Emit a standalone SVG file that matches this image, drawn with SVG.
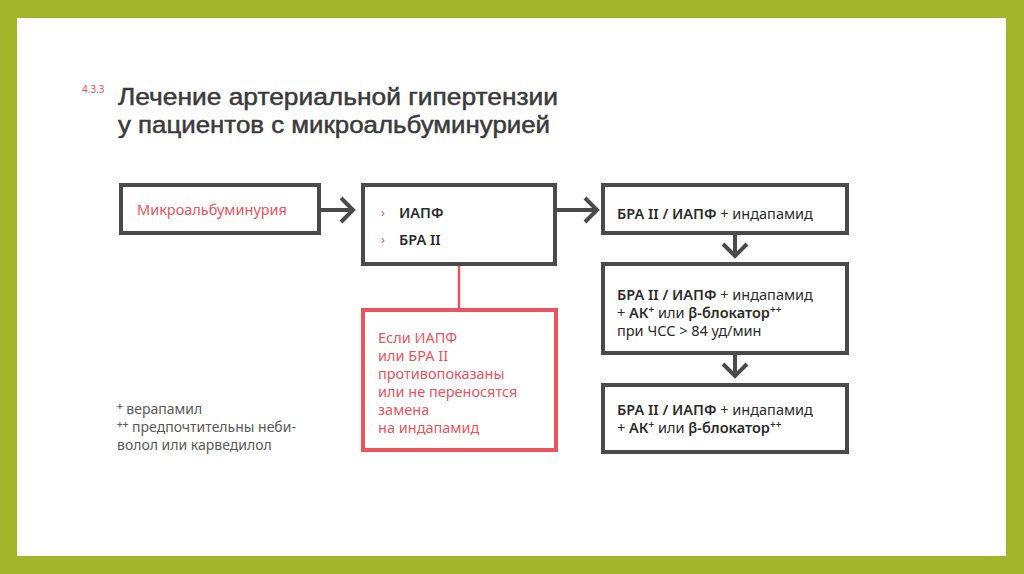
<svg xmlns="http://www.w3.org/2000/svg" width="1024" height="574" viewBox="0 0 1024 574">
<defs>
<style>
.box{fill:#fff;stroke:#4a4a4a;stroke-width:4}
.rbox{fill:#fff;stroke:#e9545e;stroke-width:4}
.ln{fill:none;stroke:#4a4a4a;stroke-width:4;stroke-linejoin:miter}
.t{font-family:"Noto Sans","Liberation Sans",sans-serif;fill:#2b2b2b;font-size:14.5px}
.h{font-family:"Liberation Sans","Noto Sans",sans-serif;font-size:24.5px;fill:#3a3a3a;stroke:#3a3a3a;stroke-width:0.5}
.b{font-weight:600}
.r{fill:#e9545e}
.g{fill:#5a5a5a;font-size:14px}
.s{font-size:10px}
</style>
</defs>
<rect x="0" y="0" width="1024" height="574" fill="#a3b52a"/>
<rect x="17" y="18" width="989" height="538" fill="#fff"/>
<g id="title">
<text x="82" y="93" class="t r" style="font-size:10px">4.3.3</text>
<text x="118" y="105" class="h" textLength="440" lengthAdjust="spacingAndGlyphs">Лечение артериальной гипертензии</text>
<text x="118" y="133" class="h" textLength="432" lengthAdjust="spacingAndGlyphs">у пациентов с микроальбуминурией</text>
</g>
<g id="connectors">
<path class="ln" d="M321 210 H353 M341 198 L353 210 L341 222"/>
<path class="ln" d="M557 210 H597 M585 198 L597 210 L585 222"/>
<path class="ln" d="M735 235 V256 M723 244 L735 256 L747 244"/>
<path class="ln" d="M735 355 V376 M723 364 L735 376 L747 364"/>
<path d="M459 266 V310" stroke="#e9545e" stroke-width="2.5" fill="none"/>
</g>
<g id="n1">
<rect class="box" x="121" y="185" width="198" height="48"/>
<text x="137" y="215" class="t r">Микроальбуминурия</text>
</g>
<g id="n2">
<rect class="box" x="363" y="185" width="192" height="79"/>
<text x="381" y="217" class="t r" style="font-size:13px">›</text>
<text x="399" y="218" class="t b">ИАПФ</text>
<text x="381" y="244" class="t r" style="font-size:13px">›</text>
<text x="399" y="245" class="t b">БРА II</text>
</g>
<g id="n3">
<rect class="rbox" x="363" y="310" width="193" height="140"/>
<text class="t r" x="378" y="343">Если ИАПФ</text>
<text class="t r" x="378" y="361">или БРА II</text>
<text class="t r" x="378" y="379">противопоказаны</text>
<text class="t r" x="378" y="397">или не переносятся</text>
<text class="t r" x="378" y="415">замена</text>
<text class="t r" x="378" y="433">на индапамид</text>
</g>
<g id="n4">
<rect class="box" x="603" y="185" width="244" height="48"/>
<text x="617" y="219" class="t"><tspan class="b">БРА II / ИАПФ</tspan> + индапамид</text>
</g>
<g id="n5">
<rect class="box" x="603" y="264" width="244" height="89"/>
<text x="617" y="300" class="t"><tspan class="b">БРА II / ИАПФ</tspan> + индапамид</text>
<text x="617" y="318" class="t">+ <tspan class="b">АК</tspan><tspan class="s b" dy="-5">+</tspan><tspan dy="5"> или </tspan><tspan class="b">β-блокатор</tspan><tspan class="s b" dy="-5">++</tspan></text>
<text x="617" y="336" class="t">при ЧСС &gt; 84 уд/мин</text>
</g>
<g id="n6">
<rect class="box" x="603" y="385" width="244" height="67"/>
<text x="617" y="415" class="t"><tspan class="b">БРА II / ИАПФ</tspan> + индапамид</text>
<text x="617" y="433" class="t">+ <tspan class="b">АК</tspan><tspan class="s b" dy="-5">+</tspan><tspan dy="5"> или </tspan><tspan class="b">β-блокатор</tspan><tspan class="s b" dy="-5">++</tspan></text>
</g>
<g id="notes">
<text x="117" y="414" class="t g"><tspan class="s b" dy="-4">+</tspan><tspan dy="4"> верапамил</tspan></text>
<text x="117" y="432" class="t g"><tspan class="s b" dy="-4">++</tspan><tspan dy="4"> предпочтительны неби-</tspan></text>
<text x="117" y="450" class="t g">волол или карведилол</text>
</g>
</svg>
